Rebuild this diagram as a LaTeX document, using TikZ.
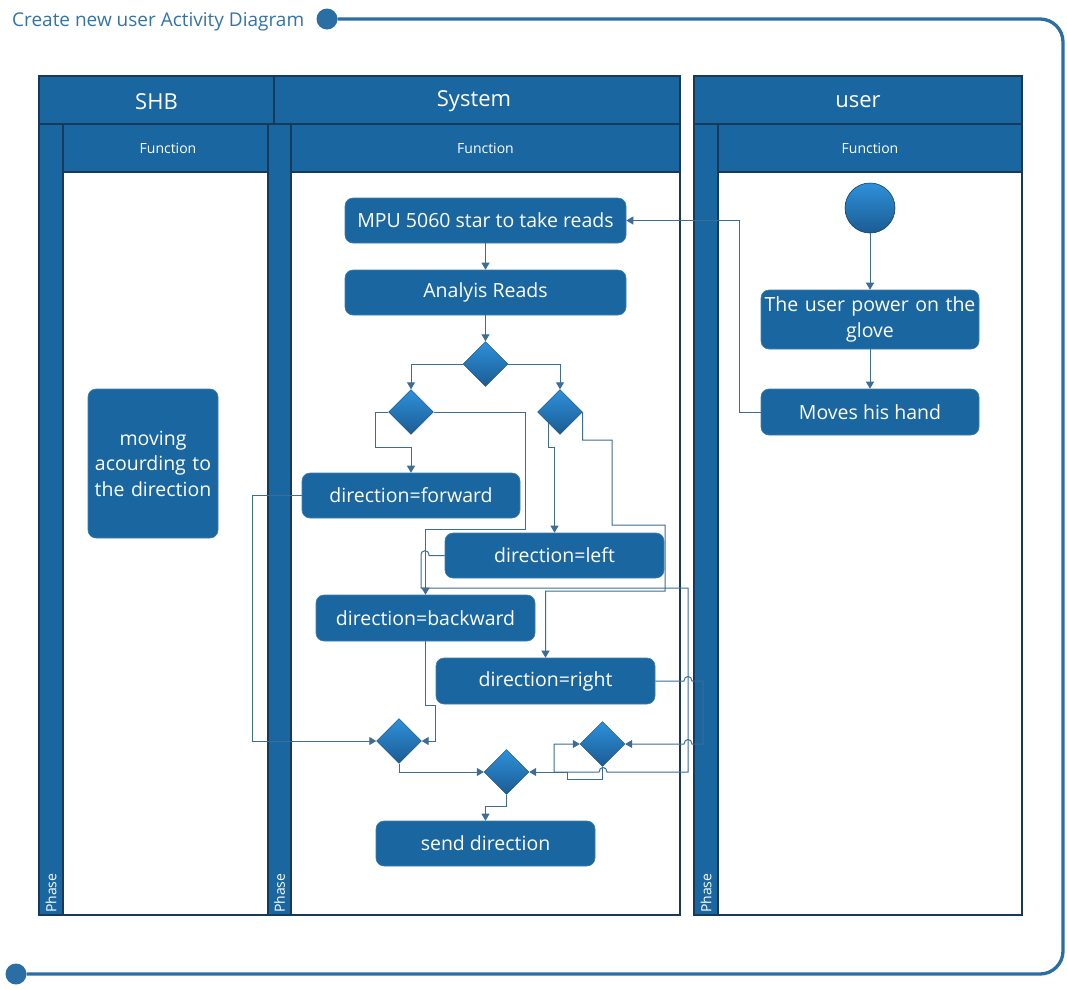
\documentclass[tikz,border=0pt]{standalone}
\usepackage{fontspec}
\setmainfont{Open Sans}
\usetikzlibrary{shapes.geometric,arrows.meta}

\definecolor{lanefill}{HTML}{1A66A0}
\definecolor{laneline}{HTML}{183A5A}
\definecolor{frameblue}{HTML}{2B6EA6}
\definecolor{titleblue}{HTML}{3473AA}
\definecolor{wire}{HTML}{3D6C95}
\definecolor{dtop}{HTML}{2E90DA}
\definecolor{dbot}{HTML}{1B5C93}

\tikzset{
  lane/.style={fill=lanefill, draw=laneline, line width=1.8pt},
  lanebody/.style={fill=white, draw=laneline, line width=1.8pt},
  headtxt/.style={text=white, font=\fontsize{22}{26}\selectfont},
  functxt/.style={text=white, font=\fontsize{14}{17}\selectfont},
  phasetxt/.style={text=white, font=\fontsize{14}{17}\selectfont, rotate=90, anchor=west, inner sep=0pt},
  act/.style={rectangle, rounded corners=8pt, fill=lanefill, draw=lanefill!85!white,
    line width=0.6pt, text=white, font=\fontsize{19.5}{25.5}\selectfont, align=center, inner sep=0pt},
  dec/.style={diamond, minimum width=45pt, minimum height=45pt, inner sep=0pt,
    top color=dtop, bottom color=dbot, draw=dbot!80!black, line width=0.4pt},
  startnode/.style={circle, minimum size=50pt, inner sep=0pt, top color=dtop, bottom color=dbot,
    draw=dbot!70!black, line width=0.6pt},
  dot/.style={circle, fill=frameblue, minimum size=21pt, inner sep=0pt},
  frameline/.style={draw=frameblue, line width=3.3pt},
  flow/.style={draw=wire, line width=1pt, -{Triangle[length=7pt,width=8pt]}},
}

\begin{document}
\begin{tikzpicture}[x=1pt, y=-1pt]
\useasboundingbox (0,0) rectangle (1067,989);

% outer frame with title
\node[dot] (tdot) at (327,19) {};
\node[dot] (bdot) at (16,974) {};
\draw[frameline, rounded corners=23pt] (tdot.east) -- (1063,19) -- (1063,974) -- (bdot.east);
\node[anchor=base west, inner sep=0pt, text=titleblue, font=\fontsize{19}{22}\selectfont] (title) at (12,26) {Create new user Activity Diagram};

% pool: SHB and System
\path[lane] (39,76) rectangle (274,124);
\path[lane] (274,76) rectangle (680,124);
\path[lane] (39,124) rectangle (63,915);
\path[lane] (63,124) rectangle (268,172);
\path[lanebody] (63,172) rectangle (268,915);
\path[lane] (268,124) rectangle (291,915);
\path[lane] (291,124) rectangle (680,172);
\path[lanebody] (291,172) rectangle (680,915);
% pool: user
\path[lane] (694,76) rectangle (1022,124);
\path[lane] (694,124) rectangle (718,915);
\path[lane] (718,124) rectangle (1022,172);
\path[lanebody] (718,172) rectangle (1022,915);

% lane captions
\node[headtxt] (hshb) at (156.5,101.5) {SHB};
\node[headtxt] (hsys) at (474,101.5) {System};
\node[headtxt] (husr) at (858,101.5) {user};
\node[functxt] (fshb) at (168,148) {Function};
\node[functxt] (fsys) at (485.5,148) {Function};
\node[functxt] (fusr) at (870,148) {Function};
\node[phasetxt] (pshb) at (51,913) {Phase};
\node[phasetxt] (psys) at (279.5,913) {Phase};
\node[phasetxt] (pusr) at (706,913) {Phase};

% activities
\node[act, minimum width=281pt, minimum height=45pt] (mpu) at (485.5,220.5) {MPU 5060 star to take reads};
\node[act, minimum width=281pt, minimum height=45pt] (ana) at (485.5,292.5) {Analyis Reads};
\node[dec] (d1) at (485.5,364) {};
\node[dec] (d2) at (411,412) {};
\node[dec] (d3) at (560,412) {};
\node[act, minimum width=218pt, minimum height=45pt] (fwd) at (411,495.5) {direction=forward};
\node[act, minimum width=219pt, minimum height=45pt] (lft) at (554.5,555.5) {direction=left};
\node[act, minimum width=219pt, minimum height=46pt] (bwd) at (425.5,618) {direction=backward};
\node[act, minimum width=219pt, minimum height=46pt] (rgt) at (545.5,681) {direction=right};
\node[dec] (d4) at (399,741) {};
\node[dec] (d5) at (602.5,744) {};
\node[dec] (d6) at (506.5,772) {};
\node[act, minimum width=219pt, minimum height=45pt] (snd) at (485.5,843.5) {send direction};
\node[act, minimum width=130pt, minimum height=149pt, text width=126pt] (mov) at (153,463.5) {moving\\acourding to\\the direction};
\node[startnode] (start) at (870,208) {};
\node[act, minimum width=218pt, minimum height=59pt, text width=214pt] (pwr) at (870,319.5) {The user power on the\\glove};
\node[act, minimum width=218pt, minimum height=46pt] (mvh) at (870,412) {Moves his hand};

% control flow
\draw[flow] (start) -- (pwr);
\draw[flow] (pwr) -- (mvh);
\draw[flow] (mvh.west) -- (739,412) |- (mpu.east);
\draw[flow] (mpu) -- (ana);
\draw[flow] (ana) -- (d1);
\draw[flow] (d1.west) -| (d2.north);
\draw[flow] (d1.east) -| (d3.north);
\draw[flow] (d2.west) -| (375,447) -| (fwd.north);
\draw[flow] (d2.east) -| (525,529) -| (bwd.north);
\draw[flow] (d3.south west) |- (lft.north |- 0,447) -- (lft.north);
\draw[flow] (d3.east) -- (582.5,440) -- (612,440) -- (612,525) -- (665,525) -- (665,591) -| (rgt.north);
\draw[flow] (lft.west) -- (429,555.5) .. controls (429,549) and (421,549) .. (421,555.5)
  -- (421,588) -- (688,588) -- (688,772) -- (607,772) .. controls (607,766) and (599,766) .. (599,772)
  -- (554,772) |- (d5.west);
\draw[flow] (d5.south) -- (602.5,779) -- (567,779) -- (567,772) -- (d6.east);
\draw[flow] (rgt.east) -- (684,681) .. controls (684,675) and (692,675) .. (692,681)
  -- (703,681) -- (703,744) -- (692,744) .. controls (692,738) and (684,738) .. (684,744) -- (d5.east);
\draw[flow] (fwd.west) -- (252,495.5) |- (d4.west);
\draw[flow] (bwd.south) -- (425.5,705) -- (435,705) |- (d4.east);
\draw[flow] (d4.south) |- (d6.west);
\draw[flow] (d6.south) -- (506.5,806) -| (snd.north);
\end{tikzpicture}
\end{document}
